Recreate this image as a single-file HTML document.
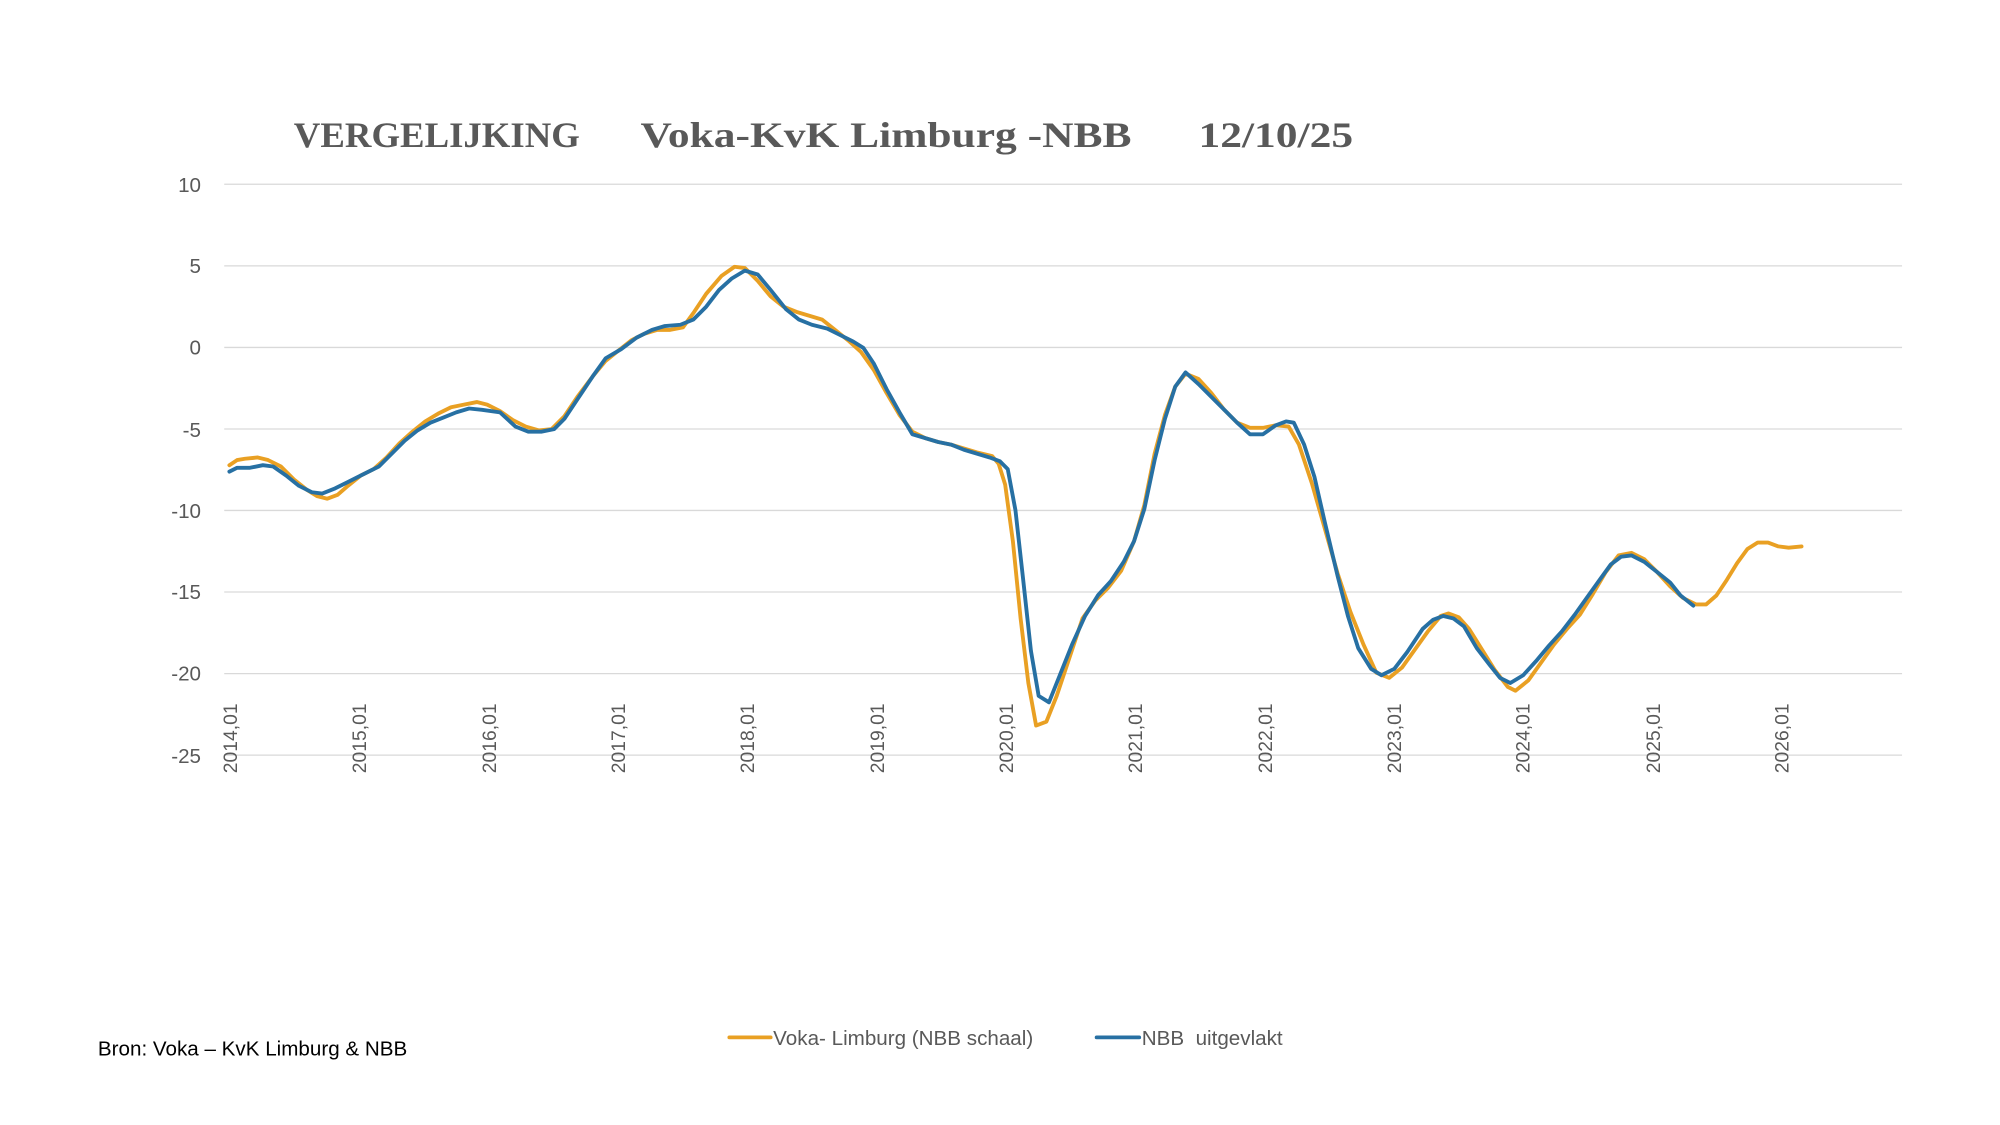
<!DOCTYPE html>
<html><head><meta charset="utf-8"><style>
html,body{margin:0;padding:0;background:#fff;}
svg{display:block;}
text{font-family:"Liberation Sans",sans-serif;fill:#595959;}
text.t{font-family:"Liberation Serif",serif;font-weight:bold;font-size:28px;}
</style></head><body>
<svg width="2000" height="1125" viewBox="0 0 1552 873" xmlns="http://www.w3.org/2000/svg">
<rect width="1552" height="873" fill="#fff"/>
<text class="t" x="228" y="114" textLength="222" lengthAdjust="spacingAndGlyphs">VERGELIJKING</text>
<text class="t" x="497" y="114" textLength="381" lengthAdjust="spacingAndGlyphs">Voka-KvK Limburg -NBB</text>
<text class="t" x="930" y="114" textLength="120" lengthAdjust="spacingAndGlyphs">12/10/25</text>
<g stroke="#d9d9d9" stroke-width="1">
<line x1="174" x2="1476" y1="143" y2="143"/><line x1="174" x2="1476" y1="206.3" y2="206.3"/>
<line x1="174" x2="1476" y1="269.6" y2="269.6"/><line x1="174" x2="1476" y1="332.9" y2="332.9"/>
<line x1="174" x2="1476" y1="396.1" y2="396.1"/><line x1="174" x2="1476" y1="459.4" y2="459.4"/>
<line x1="174" x2="1476" y1="522.7" y2="522.7"/><line x1="174" x2="1476" y1="586" y2="586"/>
</g>
<g font-size="16" text-anchor="end">
<text x="156" y="149">10</text><text x="156" y="212">5</text><text x="156" y="275">0</text>
<text x="156" y="339">-5</text><text x="156" y="402">-10</text><text x="156" y="465">-15</text>
<text x="156" y="528">-20</text><text x="156" y="592">-25</text>
</g>
<g font-size="15" text-anchor="start">
<text transform="translate(184,600) rotate(-90)">2014,01</text>
<text transform="translate(284,600) rotate(-90)">2015,01</text>
<text transform="translate(385,600) rotate(-90)">2016,01</text>
<text transform="translate(485,600) rotate(-90)">2017,01</text>
<text transform="translate(585,600) rotate(-90)">2018,01</text>
<text transform="translate(686,600) rotate(-90)">2019,01</text>
<text transform="translate(786,600) rotate(-90)">2020,01</text>
<text transform="translate(886,600) rotate(-90)">2021,01</text>
<text transform="translate(987,600) rotate(-90)">2022,01</text>
<text transform="translate(1087,600) rotate(-90)">2023,01</text>
<text transform="translate(1187,600) rotate(-90)">2024,01</text>
<text transform="translate(1288,600) rotate(-90)">2025,01</text>
<text transform="translate(1388,600) rotate(-90)">2026,01</text>
</g>
<polyline fill="none" stroke="#e9a023" stroke-width="3" stroke-linejoin="round" stroke-linecap="round" points="178,361 184,357 190,356 200,355 208,357 218,362 228,372 238,380 246,385 254,387 262,384 270,377 280,369 290,364 300,355 310,344 320,335 330,327 340,321 350,316 360,314 370,312 378,314 388,319 398,326 408,331 418,334 428,333 438,323 448,308 460,292 470,280 480,272 490,264 500,259 510,256 520,256 530,254 538,243 548,228 560,214 570,207 578,208 588,218 598,230 608,238 618,242 628,245 638,248 648,256 658,264 668,273 678,287 688,305 698,322 708,335 718,340 728,343 738,345 748,348 758,351 770,354 775,360 780,376 786,420 792,480 798,530 804,563 812,560 820,540 830,510 840,480 850,466 860,456 870,443 880,420 888,392 896,352 904,322 912,300 920,290 930,294 940,305 950,318 960,328 970,332 980,332 990,330 1000,331 1008,345 1018,375 1028,410 1038,445 1048,475 1058,500 1068,522 1078,526 1088,518 1098,504 1108,490 1118,478 1124,476 1132,479 1140,488 1150,504 1160,520 1170,533 1176,536 1186,528 1196,514 1206,500 1216,488 1226,477 1236,461 1246,444 1256,431 1266,429 1276,434 1286,444 1296,455 1306,464 1316,469 1324,469 1332,462 1340,450 1348,437 1356,426 1364,421 1372,421 1380,424 1388,425 1398,424"/>
<polyline fill="none" stroke="#2770a3" stroke-width="3" stroke-linejoin="round" stroke-linecap="round" points="178,366 184,363 194,363 204,361 212,362 222,369 232,377 242,382 250,383 260,379 270,374 280,369 294,362 304,352 314,342 324,334 334,328 344,324 354,320 364,317 374,318 388,320 400,331 410,335 420,335 430,333 438,325 448,310 460,292 470,278 482,271 494,262 506,256 516,253 528,252 538,248 548,238 558,225 568,216 578,210 588,213 598,225 610,240 620,248 630,252 642,255 652,260 662,265 670,270 678,282 688,302 698,320 708,337 718,340 728,343 738,345 748,349 758,352 768,355 776,358 782,364 788,396 794,450 800,505 806,540 814,545 822,525 832,500 842,478 852,462 862,451 872,436 880,420 888,395 896,357 904,325 912,300 920,289 930,298 940,308 950,318 960,328 970,337 980,337 990,330 998,327 1004,328 1012,345 1020,370 1028,405 1038,447 1046,478 1054,503 1064,519 1072,524 1082,519 1092,506 1104,488 1112,481 1120,478 1128,480 1136,486 1146,503 1156,516 1164,526 1172,530 1182,524 1192,513 1202,501 1212,490 1222,477 1232,463 1242,449 1250,438 1258,432 1266,431 1276,436 1286,444 1296,452 1304,462 1314,470"/>
<line x1="566" x2="598" y1="805" y2="805" stroke="#e9a023" stroke-width="3" stroke-linecap="round"/>
<text x="600" y="811" font-size="16">Voka- Limburg (NBB schaal)</text>
<line x1="851" x2="884" y1="805" y2="805" stroke="#2770a3" stroke-width="3" stroke-linecap="round"/>
<text x="886" y="811" font-size="16" xml:space="preserve">NBB  uitgevlakt</text>
<text x="76" y="819" font-size="16" style="fill:#000">Bron: Voka – KvK Limburg &amp; NBB</text>
</svg>
</body></html>
